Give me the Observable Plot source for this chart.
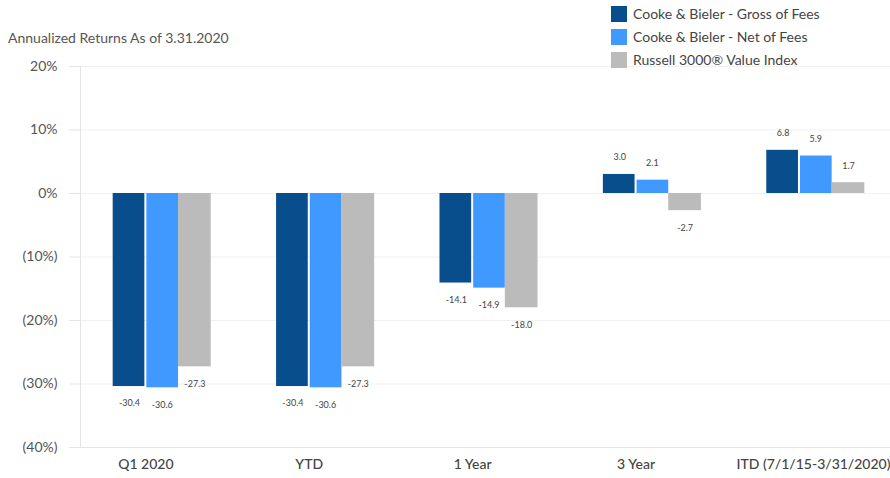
<!DOCTYPE html>
<html><head><meta charset="utf-8">
<script src="https://cdn.jsdelivr.net/npm/d3@7"></script>
<script src="https://cdn.jsdelivr.net/npm/@observablehq/plot@0.6"></script>
<style>
body{margin:0;background:#fff;font-family:Lato,"Open Sans",sans-serif;}
#wrap{position:relative;width:890px;height:478px;overflow:hidden;background:#fff;}
#chart{position:absolute;left:0;top:0;}
#title{position:absolute;left:8px;top:29px;font-size:14px;color:#555;white-space:nowrap;}
#legend{position:absolute;left:611px;top:0;width:279px;height:72px;}
.row{position:absolute;left:0;height:23px;font-size:14px;color:#444;white-space:nowrap;}
.sw{position:absolute;left:0;top:0;width:16px;height:16px;}
.lt{position:absolute;left:22px;top:-1px;line-height:18px;}
</style></head>
<body><div id="wrap"><div id="chart"></div><div id="title"></div><div id="legend"></div></div>
<script>
const titleText = "Annualized Returns As of 3.31.2020";
const categories = ["Q1 2020", "YTD", "1 Year", "3 Year", "ITD (7/1/15-3/31/2020)"];
const series = ["Cooke & Bieler - Gross of Fees", "Cooke & Bieler - Net of Fees", "Russell 3000® Value Index"];
const colors = ["#084d8c", "#3f99ff", "#bbbbbb"];
const gross = [-30.4, -30.4, -14.1, 3.0, 6.8];
const net = [-30.6, -30.6, -14.9, 2.1, 5.9];
const russell = [-27.3, -27.3, -18.0, -2.7, 1.7];
const yTicks = [20, 10, 0, -10, -20, -30, -40];

const seriesValues = [gross, net, russell];
const groupWidth = 0.6;            // fraction of each category slot filled by the three bars
const barW = groupWidth / series.length;
const rows = [];
categories.forEach((c, i) => series.forEach((s, j) => rows.push({
  category: c, ci: i, series: s, si: j, value: seriesValues[j][i],
  x1: i - groupWidth / 2 + j * barW, x2: i - groupWidth / 2 + (j + 1) * barW
})));
const catRows = categories.map((c, i) => ({category: c, ci: i}));

const fmtY = d => d < 0 ? `(${-d}%)` : `${d}%`;

const chart = Plot.plot({
  width: 890, height: 478,
  marginTop: 66, marginBottom: 31, marginLeft: 80, marginRight: 0,
  style: {fontFamily: "Lato, 'Open Sans', sans-serif", fontSize: "14px", background: "transparent"},
  x: {type: "linear", domain: [-0.5, categories.length - 0.5], range: [80, 897], axis: null},
  y: {domain: [-40, 20], axis: null},
  color: {domain: series, range: colors},
  marks: [
    Plot.gridY(yTicks, {stroke: "#f0f0f0", strokeOpacity: 1}),
    Plot.ruleY([-40], {stroke: "#e3e3ea"}),
    Plot.frame({anchor: "left", stroke: "#e3e3ea"}),
    Plot.axisY(yTicks, {tickFormat: fmtY, tickSize: 11, tickPadding: 12, stroke: "#e3e3ea", fill: "#555", fontSize: 14, label: null}),
    Plot.rectY(rows.filter(d => d.si === 0), {x1: "x1", x2: "x2", y: "value", fill: "series", insetRight: 1}),
    Plot.rectY(rows.filter(d => d.si === 1), {x1: "x1", x2: "x2", y: "value", fill: "series", insetLeft: 1}),
    Plot.rectY(rows.filter(d => d.si === 2), {x1: "x1", x2: "x2", y: "value", fill: "series"}),
    Plot.text(rows.filter(d => d.value < 0), {x: d => (d.x1 + d.x2) / 2, y: "value", text: d => d.value.toFixed(1), dy: 17, fontSize: 9, fill: "#444"}),
    Plot.text(rows.filter(d => d.value >= 0), {x: d => (d.x1 + d.x2) / 2, y: "value", text: d => d.value.toFixed(1), dy: -17, fontSize: 9, fill: "#444"}),
    Plot.text(catRows.slice(0, 4), {x: d => d.ci - groupWidth / 2 + barW, text: "category", frameAnchor: "bottom", dy: 21, fontSize: 14, fill: "#444", fontWeight: 500}),
    Plot.text(catRows.slice(4), {x: d => d.ci + 0.5, text: "category", frameAnchor: "bottom", textAnchor: "end", dy: 21, dx: -7, fontSize: 14, fill: "#444", fontWeight: 500})
  ]
});
document.getElementById("chart").appendChild(chart);
document.getElementById("title").textContent = titleText;
const leg = document.getElementById("legend");
series.forEach((s, i) => {
  const r = document.createElement("div");
  r.className = "row"; r.style.top = (6 + i * 23) + "px";
  const sw = document.createElement("div"); sw.className = "sw"; sw.style.background = colors[i];
  const t = document.createElement("div"); t.className = "lt"; t.textContent = s;
  r.appendChild(sw); r.appendChild(t); leg.appendChild(r);
});
</script></body></html>
